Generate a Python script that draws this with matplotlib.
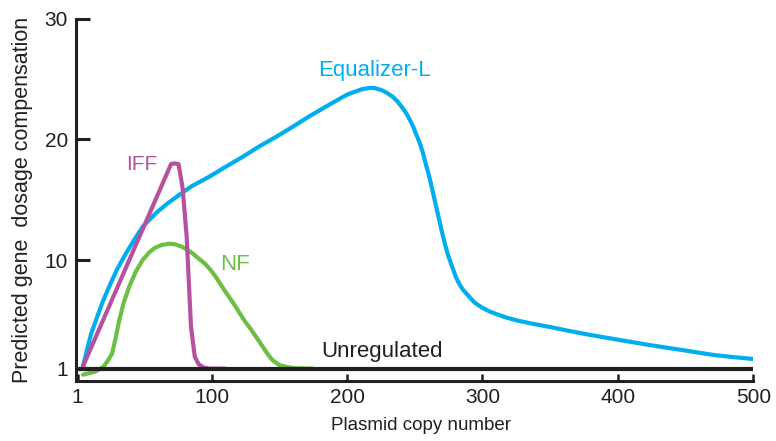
import matplotlib
matplotlib.use("Agg")
import matplotlib.pyplot as plt

plt.rcParams['font.family'] = ['Liberation Sans', 'DejaVu Sans']

# Equalizer-L (blue)
eq_x = [5, 8, 11, 14.5, 19, 24.3, 30, 36.7, 43, 49, 55, 60, 67, 73.6, 85, 98.2, 110, 122.9, 135,
        147.5, 160, 172, 185, 196.7, 201, 206, 211, 216.4, 220, 225, 229.5, 234, 237.5, 241,
        244, 246.4, 249, 251.5, 254, 256.2, 258, 260, 262, 263.6, 265.5, 267.5, 269.3, 271,
        272.8, 274.6, 276.5, 278.4, 280.5, 283, 285.5, 288.3, 291, 294, 297, 300.6, 306, 312,
        318, 325.2, 337, 350, 362, 374.4, 387, 400, 412, 423.7, 437, 450, 461, 472.9, 486, 500]
eq_y = [1.2, 2.6, 3.9, 5.0, 6.4, 7.8, 9.2, 10.55, 11.7, 12.75, 13.45, 14.0, 14.65, 15.2, 16.1,
        16.9, 17.7, 18.55, 19.4, 20.2, 21.05, 21.9, 22.75, 23.5, 23.75, 23.95, 24.15, 24.25,
        24.25, 24.1, 23.85, 23.5, 23.1, 22.6, 22.1, 21.6, 21.0, 20.3, 19.6, 18.8, 18.0, 17.2,
        16.3, 15.5, 14.55, 13.6, 12.7, 11.9, 11.1, 10.4, 9.8, 9.2, 8.55, 8.0, 7.55, 7.2, 6.85,
        6.5, 6.25, 6.0, 5.7, 5.45, 5.22, 5.0, 4.72, 4.45, 4.17, 3.9, 3.65, 3.4, 3.17, 2.95,
        2.72, 2.5, 2.3, 2.1, 1.95, 1.8]

# IFF (magenta)
iff_x = [5, 70, 72, 75.5, 78.5, 81.5, 84.7, 87.5, 90.5, 94, 98, 110]
iff_y = [1.2, 17.95, 18.0, 17.95, 16.0, 12.0, 4.5, 2.0, 1.35, 1.1, 1.0, 1.0]

# NF (green)
nf_x = [5, 14, 19.9, 23, 26.5, 29, 31.7, 35, 39.1, 44, 49, 54, 58, 63, 68.7, 73, 78, 82, 85.9,
        90, 95, 99, 103.1, 106.5, 110, 114, 117.9, 121.5, 125, 129, 132.7, 136, 139, 142,
        145, 148, 150, 154.8, 162, 175]
nf_y = [0.5, 0.75, 1.15, 1.6, 2.27, 3.5, 5.0, 6.45, 7.8, 9.05, 10.0, 10.65, 11.0, 11.25,
        11.35, 11.3, 11.1, 10.85, 10.55, 10.15, 9.7, 9.2, 8.6, 8.0, 7.4, 6.75, 6.1, 5.45,
        4.85, 4.25, 3.65, 3.1, 2.6, 2.1, 1.7, 1.45, 1.3, 1.15, 1.03, 1.0]

# Unregulated (black)
unreg_x = [0, 500]
unreg_y = [1, 1]

xticks = [1, 100, 200, 300, 400, 500]
yticks = [1, 10, 20, 30]

c_blue = '#00AEEF'
c_mag = '#B5519F'
c_green = '#6DBE45'
c_black = '#231F20'

fig = plt.figure(figsize=(7.76, 4.41), dpi=100)
ax = fig.add_axes([0.0983, 0.1367, 0.8724, 0.8211])

ax.plot(nf_x, nf_y, color=c_green, lw=3.0, solid_joinstyle='round', solid_capstyle='round', zorder=3)
ax.plot(eq_x, eq_y, color=c_blue, lw=3.0, solid_joinstyle='round', solid_capstyle='round', zorder=3)
ax.plot(iff_x, iff_y, color=c_mag, lw=3.0, solid_joinstyle='round', solid_capstyle='round', zorder=4)
ax.plot(unreg_x, unreg_y, color=c_black, lw=3.0, solid_capstyle='butt', zorder=5)

ax.set_xlim(0, 500)
ax.set_ylim(0, 30)
ax.set_xticks(xticks)
ax.set_xticklabels([str(t) for t in xticks])
ax.set_yticks(yticks)
ax.set_yticklabels([str(t) for t in yticks])

for s in ['top', 'right']:
    ax.spines[s].set_visible(False)
for s in ['left', 'bottom']:
    ax.spines[s].set_linewidth(2.2)
    ax.spines[s].set_color(c_black)

ax.tick_params(axis='y', direction='in', length=10, width=2.2, color=c_black,
               labelsize=15, pad=6, labelcolor=c_black)
ax.tick_params(axis='x', direction='in', length=5, width=1.8, color=c_black,
               labelsize=15, pad=5, labelcolor=c_black)

ax.set_xlabel('Plasmid copy number', fontsize=13.5, color=c_black)
ax.xaxis.set_label_coords(0.509, -0.099)
ax.set_ylabel('Predicted gene  dosage compensation', fontsize=15.5, color=c_black, labelpad=8)

ax.text(220.4, 25.7, 'Equalizer-L', color=c_blue, fontsize=16, ha='center', va='center')
ax.text(48.7, 17.9, 'IFF', color=c_mag, fontsize=15, ha='center', va='center')
ax.text(117.5, 9.6, 'NF', color=c_green, fontsize=16, ha='center', va='center')
ax.text(225.7, 2.4, 'Unregulated', color=c_black, fontsize=16, ha='center', va='center')

fig.savefig('out.png', dpi=100)
